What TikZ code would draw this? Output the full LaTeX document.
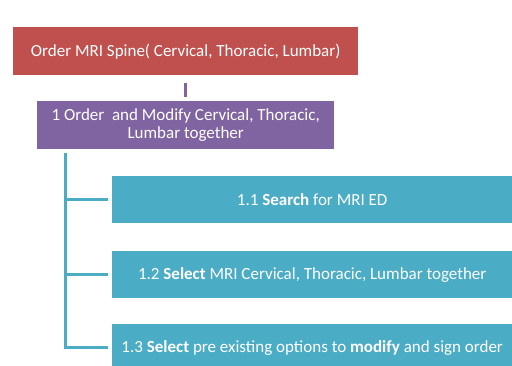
\documentclass[tikz,border=0pt]{standalone}
\usepackage{fontspec}
\setmainfont{Carlito}
\definecolor{spinered}{HTML}{C0504D}
\definecolor{ordpurple}{HTML}{8064A2}
\definecolor{stepteal}{HTML}{4BACC6}
\tikzset{
  box/.style={anchor=north west, inner sep=0pt, text=white, align=center,
    font=\fontsize{17}{18}\selectfont},
  stepbox/.style={box, fill=stepteal, minimum width=400pt, minimum height=47pt},
  tree/.style={stepteal, line width=3pt, shorten >=4pt}
}

\begin{document}
\begin{tikzpicture}[x=1pt,y=-1pt]
            \useasboundingbox (0,0) rectangle (512,365);
            \clip (0,0) rectangle (512,365);
            \node[box,fill=spinered,minimum width=345pt,minimum height=48pt] (spine) at (13,27) {Order MRI Spine( Cervical, Thoracic, Lumbar)};
            \node[box,fill=ordpurple,minimum width=297pt,minimum height=48pt] (modify) at (37,101) {1 Order\ \ and Modify Cervical, Thoracic,\\ Lumbar together};
            \draw[ordpurple,line width=3pt,shorten <=8pt,shorten >=4pt] (spine.south) -- (modify.north);
            \node[stepbox] (search) at (112,176) {1.1 \textbf{Search} for MRI ED};
            \node[stepbox] (select) at (112,251) {1.2 \textbf{Select} MRI Cervical, Thoracic, Lumbar together};
            \node[stepbox] (options) at (112,324) {1.3 \textbf{Select} pre existing options to \textbf{modify} and sign order};
            \coordinate (trunk) at (65,153);
            \foreach \s in {search,select,options}
              \draw[tree] (trunk) |- (\s.west);
        \end{tikzpicture}
\end{document}
